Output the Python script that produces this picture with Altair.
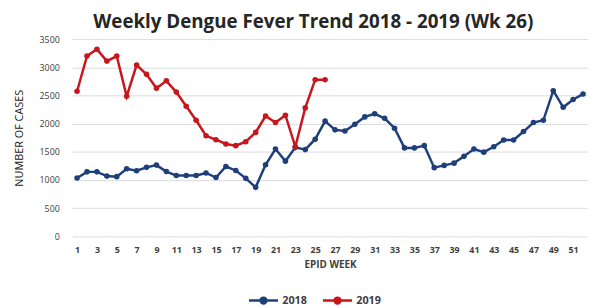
import altair as alt
import pandas as pd

weeks_2018 = list(range(1, 53))
cases_2018 = [1035, 1145, 1145, 1070, 1060, 1200, 1165, 1225, 1265, 1150,
              1080, 1080, 1080, 1125, 1045, 1240, 1170, 1030, 870, 1270,
              1550, 1335, 1580, 1540, 1725, 2045, 1890, 1870, 1990, 2120,
              2175, 2095, 1920, 1570, 1570, 1610, 1220, 1260, 1300, 1420,
              1550, 1495, 1590, 1710, 1710, 1860, 2020, 2060, 2585, 2290,
              2430, 2525]
weeks_2019 = list(range(1, 27))
cases_2019 = [2575, 3200, 3320, 3110, 3200, 2485, 3040, 2875, 2630, 2760,
              2560, 2310, 2060, 1785, 1715, 1640, 1610, 1680, 1845, 2135,
              2020, 2150, 1590, 2280, 2780, 2780]
x_tick_labels = list(range(1, 52, 2))
y_ticks = [0, 500, 1000, 1500, 2000, 2500, 3000, 3500]
series = ["2018", "2019"]
colors = ["#1F3F7A", "#C8161D"]

df = pd.concat([
    pd.DataFrame({"week": weeks_2018, "cases": cases_2018, "year": "2018"}),
    pd.DataFrame({"week": weeks_2019, "cases": cases_2019, "year": "2019"}),
])

font = "Open Sans"
sym = "M-1,0L1,0M-0.2,0A0.2,0.2,0,1,1,0.2,0A0.2,0.2,0,1,1,-0.2,0Z"

x = alt.X("week:Q",
          scale=alt.Scale(domain=[0.5, 52.5], nice=False, zero=False),
          axis=alt.Axis(values=x_tick_labels, title="EPID WEEK", grid=False,
                        domain=False, ticks=False, labelPadding=9,
                        labelFontSize=9, labelFontWeight="bold",
                        labelColor="#404040", titleFontSize=10,
                        titleFontWeight="bold", titleColor="#404040",
                        titlePadding=6, labelFont=font, titleFont=font))
y = alt.Y("cases:Q",
          scale=alt.Scale(domain=[0, 3500], nice=False),
          axis=alt.Axis(values=y_ticks, format="d", title="NUMBER OF CASES",
                        grid=True, gridColor="#DADADA", domain=False, ticks=False,
                        labelPadding=13, labelFontSize=9, labelColor="#404040",
                        titleFontSize=11, titleFontWeight="normal",
                        titleColor="#202020", titlePadding=15,
                        labelFont=font, titleFont=font))
color = alt.Color("year:N",
                  scale=alt.Scale(domain=series, range=colors),
                  legend=alt.Legend(title=None, orient="none", direction="horizontal",
                                    legendX=178, legendY=249,
                                    symbolType=sym, symbolSize=870,
                                    symbolStrokeWidth=2.5, labelOffset=3,
                                    columnPadding=10, labelFontSize=11,
                                    labelFontWeight="bold", labelColor="#404040",
                                    labelFont=font))

base = alt.Chart(df)
lines = base.mark_line(strokeWidth=2.5).encode(x=x, y=y, color=color)
points = base.mark_circle(size=32, opacity=1).encode(x=x, y=y, color=color)

chart = alt.layer(lines, points).properties(
    width=523, height=200,
    title=alt.TitleParams("Weekly Dengue Fever Trend 2018 - 2019 (Wk 26)",
                          font=font, fontSize=19, fontWeight="bold",
                          color="#262626", offset=3, dx=-17),
    autosize=alt.AutoSizeParams(type="none"),
    padding={"left": 65, "top": 29.5, "right": 0, "bottom": 68},
).configure_view(stroke=None)

chart.save("out.html", embed_options={"renderer": "svg", "actions": False})
